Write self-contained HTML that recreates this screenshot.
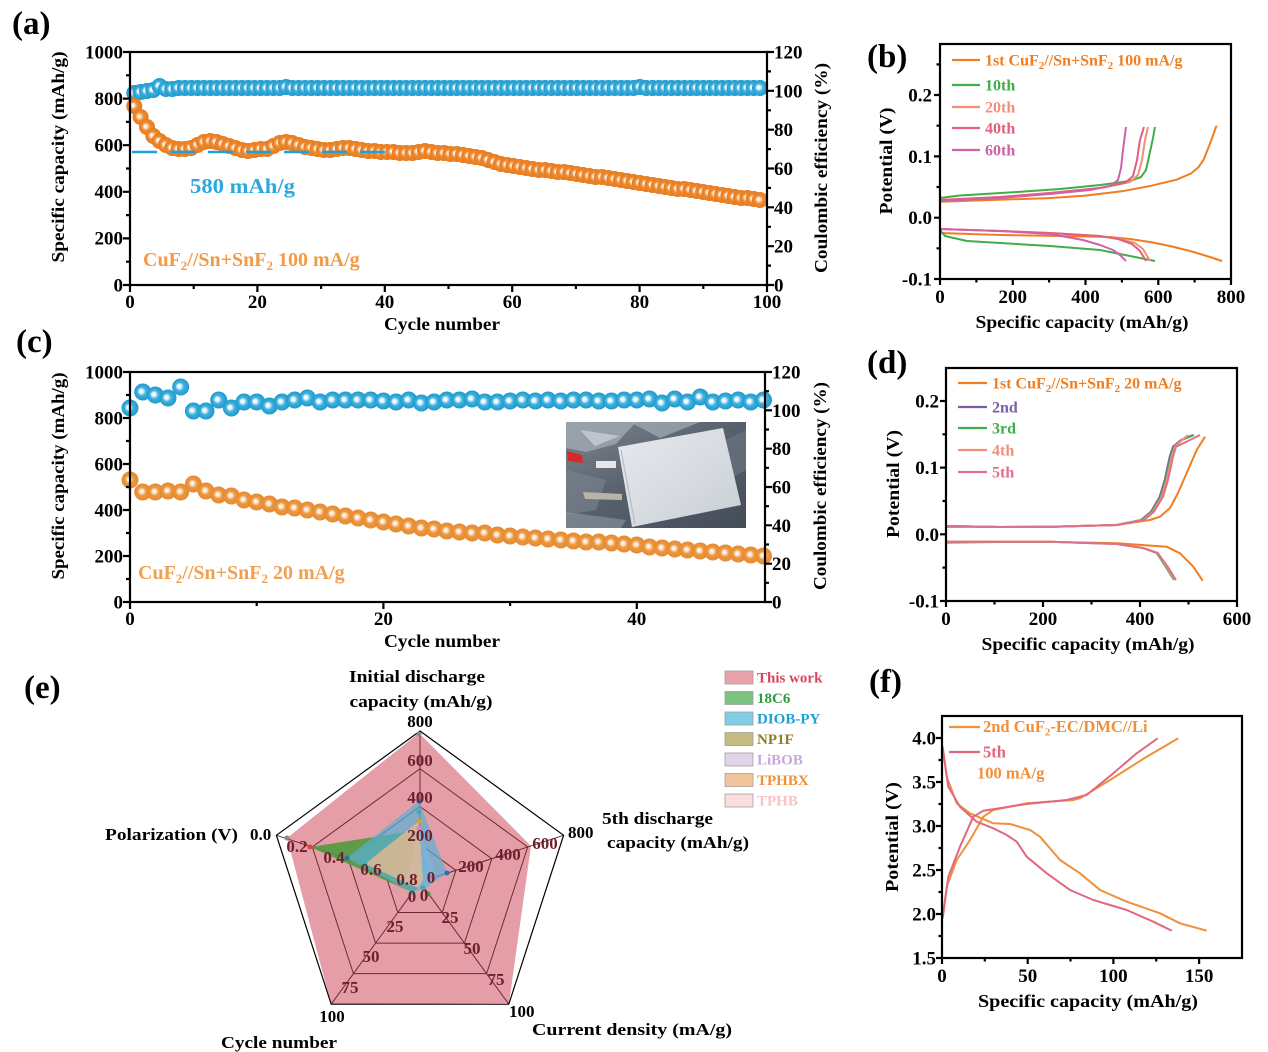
<!DOCTYPE html>
<html><head><meta charset="utf-8"><style>
html,body{margin:0;padding:0;background:#fff;}
svg{display:block;}
text{font-family:"Liberation Serif",serif;font-weight:bold;}
</style></head><body>
<svg width="1268" height="1052" viewBox="0 0 1268 1052" xmlns="http://www.w3.org/2000/svg">
<defs>
<radialGradient id="gb" cx="0.5" cy="0.5" r="0.5" fx="0.38" fy="0.45"><stop offset="0" stop-color="#ffffff"/><stop offset="0.22" stop-color="#e8f6fc"/><stop offset="0.5" stop-color="#3fb1de"/><stop offset="1" stop-color="#1d98cc"/></radialGradient>
<radialGradient id="go" cx="0.5" cy="0.5" r="0.5" fx="0.38" fy="0.45"><stop offset="0" stop-color="#ffffff"/><stop offset="0.22" stop-color="#fbe3cc"/><stop offset="0.5" stop-color="#f08a32"/><stop offset="1" stop-color="#e67a1c"/></radialGradient>
<radialGradient id="go2" cx="0.5" cy="0.5" r="0.5" fx="0.42" fy="0.45"><stop offset="0" stop-color="#ffffff"/><stop offset="0.22" stop-color="#fbe6d2"/><stop offset="0.5" stop-color="#ec973f"/><stop offset="1" stop-color="#e68a30"/></radialGradient>
<marker id="mb" viewBox="-9 -9 18 18" markerWidth="18" markerHeight="18" markerUnits="userSpaceOnUse" refX="0" refY="0" overflow="visible"><circle r="8" fill="url(#gb)"/></marker>
<marker id="mo" viewBox="-9 -9 18 18" markerWidth="18" markerHeight="18" markerUnits="userSpaceOnUse" refX="0" refY="0" overflow="visible"><circle r="8" fill="url(#go)"/></marker>
<marker id="mb2" viewBox="-9 -9 18 18" markerWidth="18" markerHeight="18" markerUnits="userSpaceOnUse" refX="0" refY="0" overflow="visible"><circle r="8.5" fill="url(#gb)"/></marker>
<marker id="mo2" viewBox="-9 -9 18 18" markerWidth="18" markerHeight="18" markerUnits="userSpaceOnUse" refX="0" refY="0" overflow="visible"><circle r="8.5" fill="url(#go2)"/></marker>
<linearGradient id="ph" x1="0" y1="0" x2="1" y2="1"><stop offset="0" stop-color="#7c8590"/><stop offset="0.5" stop-color="#56606c"/><stop offset="1" stop-color="#444c58"/></linearGradient>
<linearGradient id="pouch" x1="0" y1="0" x2="1" y2="1"><stop offset="0" stop-color="#e6e9ed"/><stop offset="0.6" stop-color="#d5dae0"/><stop offset="1" stop-color="#c8ced5"/></linearGradient>
</defs>
<rect width="1268" height="1052" fill="#fff"/>

<!-- ================= (a) ================= -->
<text x="12" y="34" font-size="33">(a)</text>
<polyline fill="none" stroke="none" marker-start="url(#mb)" marker-mid="url(#mb)" marker-end="url(#mb)" points="134.3,93 140.6,92 147,91 153.3,90 159.6,86 165.9,89 172.2,89 178.6,88 184.9,88 191.2,88 197.5,88 203.8,88 210.2,88 216.5,88 222.8,88 229.1,88 235.4,88 241.8,88 248.1,88 254.4,88 260.7,88 267,88 273.4,88 279.7,88 286,87 292.3,88 298.6,88 305,88 311.3,88 317.6,88 323.9,88 330.2,88 336.6,88 342.9,88 349.2,88 355.5,88 361.8,88 368.2,88 374.5,88 380.8,88 387.1,88 393.4,88 399.8,88 406.1,88 412.4,88 418.7,88 425,88 431.4,88 437.7,88 444,88 450.3,88 456.6,88 463,88 469.3,88 475.6,88 481.9,88 488.2,88 494.6,88 500.9,88 507.2,88 513.5,88 519.8,88 526.2,88 532.5,88 538.8,88 545.1,88 551.4,88 557.8,88 564.1,88 570.4,88 576.7,88 583,88 589.4,88 595.7,88 602,88 608.3,88 614.6,88 621,88 627.3,88 633.6,88 639.9,87 646.2,88 652.6,88 658.9,88 665.2,88 671.5,88 677.8,88 684.2,88 690.5,88 696.8,88 703.1,88 709.4,88 715.8,88 722.1,88 728.4,88 734.7,88 741,88 747.4,88 753.7,88 760,88"/>
<polyline fill="none" stroke="none" marker-start="url(#mo)" marker-mid="url(#mo)" marker-end="url(#mo)" points="134.3,106 140.6,117 147,127 153.3,136 159.6,141 165.9,145 172.2,148 178.6,149 184.9,149 191.2,148 197.5,145 203.8,142 210.2,141 216.5,142 222.8,144 229.1,146 235.4,148 241.8,150 248.1,151 254.4,150 260.7,149 267,149 273.4,146 279.7,143 286,142 292.3,143 298.6,145 305,147 311.3,148 317.6,149 323.9,150 330.2,150 336.6,149 342.9,148 349.2,148 355.5,149 361.8,150 368.2,151 374.5,151 380.8,152 387.1,152 393.4,152 399.8,153 406.1,153 412.4,153 418.7,152 425,151 431.4,152 437.7,153 444,153 450.3,154 456.6,154 463,155 469.3,156 475.6,157 481.9,158 488.2,160 494.6,162 500.9,164 507.2,165 513.5,166 519.8,167 526.2,168 532.5,169 538.8,170 545.1,170 551.4,171 557.8,172 564.1,172 570.4,173 576.7,174 583,175 589.4,176 595.7,177 602,177 608.3,178 614.6,179 621,180 627.3,181 633.6,182 639.9,183 646.2,184 652.6,185 658.9,186 665.2,187 671.5,188 677.8,189 684.2,189 690.5,190 696.8,191 703.1,192 709.4,193 715.8,194 722.1,195 728.4,196 734.7,197 741,198 747.4,198 753.7,199 760,200"/>
<line x1="132" y1="152" x2="392" y2="152" stroke="#1ea0d8" stroke-width="2.6" stroke-dasharray="25 13"/>
<g fill="none" stroke="#000" stroke-width="2.2">
<rect x="130" y="52" width="637" height="233"/>
<path d="M130 52h-7M130 98.6h-7M130 145.2h-7M130 191.8h-7M130 238.4h-7M130 285h-7M130 75.3h-4M130 121.9h-4M130 168.5h-4M130 215.1h-4M130 261.7h-4M767 52h7M767 90.8h7M767 129.7h7M767 168.5h7M767 207.3h7M767 246.2h7M767 285h7M767 71.4h4M767 110.3h4M767 149.1h4M767 187.9h4M767 226.8h4M767 265.6h4M130 285v7M257.4 285v7M384.8 285v7M512.2 285v7M639.6 285v7M767 285v7M193.7 285v4M321.1 285v4M448.5 285v4M575.9 285v4M703.3 285v4"/>
</g>
<g font-size="19" text-anchor="end">
<text x="123" y="58.5">1000</text><text x="123" y="105">800</text><text x="123" y="151.5">600</text><text x="123" y="198">400</text><text x="123" y="244.5">200</text><text x="123" y="291.5">0</text>
</g>
<g font-size="19">
<text x="774" y="58.5">120</text><text x="774" y="97.3">100</text><text x="774" y="136">80</text><text x="774" y="175">60</text><text x="774" y="213.8">40</text><text x="774" y="252.5">20</text><text x="774" y="291.5">0</text>
</g>
<g font-size="19" text-anchor="middle">
<text x="130" y="308">0</text><text x="257.4" y="308">20</text><text x="384.8" y="308">40</text><text x="512.2" y="308">60</text><text x="639.6" y="308">80</text><text x="767" y="308">100</text>
</g>
<text x="442" y="330" font-size="18" text-anchor="middle" textLength="116" lengthAdjust="spacingAndGlyphs">Cycle number</text>
<text transform="translate(64,157) rotate(-90)" font-size="18" text-anchor="middle" textLength="211" lengthAdjust="spacingAndGlyphs">Specific capacity (mAh/g)</text>
<text transform="translate(827,168) rotate(-90)" font-size="18" text-anchor="middle" textLength="210" lengthAdjust="spacingAndGlyphs">Coulombic efficiency (%)</text>
<text x="190" y="193" font-size="21" fill="#29a9e0" textLength="105" lengthAdjust="spacingAndGlyphs">580 mAh/g</text>
<text x="143" y="266" font-size="20" fill="#f39a45">CuF<tspan font-size="13" dy="4">2</tspan><tspan dy="-4">//Sn+SnF</tspan><tspan font-size="13" dy="4">2</tspan><tspan dy="-4"> 100 mA/g</tspan></text>

<!-- ================= (b) ================= -->
<text x="867" y="67" font-size="33">(b)</text>
<g fill="none" stroke-width="2" stroke-linejoin="round">
<polyline stroke="#f07e20" points="940,233 940,201.8 976.4,200.5 1012.8,199.3 1049.1,198.1 1085.5,195.6 1121.9,191.3 1151,185.8 1176.5,179.7 1191,173.5 1198.3,167.4 1203.8,159.4 1211,141 1216.5,125.7"/>
<polyline stroke="#f07e20" points="940,233 1000,235 1060,236 1110,237 1130,239 1150,242 1170,246 1190,251 1210,257 1222,261"/>
<polyline stroke="#3fae49" points="940,230 940,198 960,195.5 1017,192 1060,189 1100,185 1130,181 1141,177 1146,170 1150,152 1153,138 1155,127"/>
<polyline stroke="#3fae49" points="940,230 945,236 967,241 1050,246 1100,250 1120,254 1140,258 1155,261"/>
<polyline stroke="#f0907a" points="940,229 940,200 1000,197 1050,193 1100,188 1130,182 1138,175 1142,160 1145,140 1148,127"/>
<polyline stroke="#f0907a" points="940,229 1000,231 1050,233 1100,236 1120,239 1135,243 1143,249 1150,261"/>
<polyline stroke="#e0607e" points="940,229 940,200 1000,197 1050,193 1100,188 1125,183 1133,176 1137,160 1140,140 1144,127"/>
<polyline stroke="#e0607e" points="940,229 1000,231 1050,233 1100,236 1118,239 1132,244 1140,251 1146,261"/>
<polyline stroke="#d060a8" points="940,229 940,201 1000,198 1050,194 1090,190 1110,186 1118,180 1121,168 1123,150 1126,127"/>
<polyline stroke="#d060a8" points="940,229 1000,231 1050,234 1083,240 1100,245 1113,250 1120,255 1126,261"/>
</g>
<g fill="none" stroke="#000" stroke-width="2.2">
<rect x="940" y="44" width="291" height="235"/>
<path d="M940 279h-6M940 217.7h-6M940 156.4h-6M940 95h-6M940 248.3h-3.5M940 187h-3.5M940 125.7h-3.5M940 64.4h-3.5M940 279v6M1012.8 279v6M1085.5 279v6M1158.3 279v6M1231 279v6M976.4 279v3.5M1049.1 279v3.5M1121.9 279v3.5M1194.6 279v3.5"/>
</g>
<g font-size="19" text-anchor="end">
<text x="932" y="101.5">0.2</text><text x="932" y="163">0.1</text><text x="932" y="224">0.0</text><text x="932" y="285.5">-0.1</text>
</g>
<g font-size="19" text-anchor="middle">
<text x="940" y="303">0</text><text x="1012.8" y="303">200</text><text x="1085.5" y="303">400</text><text x="1158.3" y="303">600</text><text x="1231" y="303">800</text>
</g>
<text x="1082" y="328" font-size="18" text-anchor="middle" textLength="213" lengthAdjust="spacingAndGlyphs">Specific capacity (mAh/g)</text>
<text transform="translate(892,161) rotate(-90)" font-size="18" text-anchor="middle" textLength="107" lengthAdjust="spacingAndGlyphs">Potential (V)</text>
<g stroke-width="2.2">
<line x1="952" y1="60" x2="980" y2="60" stroke="#f07e20"/>
<line x1="952" y1="85" x2="980" y2="85" stroke="#3fae49"/>
<line x1="952" y1="107" x2="980" y2="107" stroke="#f0907a"/>
<line x1="952" y1="128" x2="980" y2="128" stroke="#e0607e"/>
<line x1="952" y1="150" x2="980" y2="150" stroke="#d060a8"/>
</g>
<g font-size="16">
<text x="985" y="65.5" fill="#f07e20">1st CuF<tspan font-size="11" dy="3.5">2</tspan><tspan dy="-3.5">//Sn+SnF</tspan><tspan font-size="11" dy="3.5">2</tspan><tspan dy="-3.5"> 100 mA/g</tspan></text>
<text x="985" y="90.5" fill="#3fae49">10th</text>
<text x="985" y="112.5" fill="#f0907a">20th</text>
<text x="985" y="133.5" fill="#e0607e">40th</text>
<text x="985" y="155.5" fill="#d060a8">60th</text>
</g>

<!-- ================= (c) ================= -->
<text x="16" y="352" font-size="33">(c)</text>
<polyline fill="none" stroke="none" marker-start="url(#mb2)" marker-mid="url(#mb2)" marker-end="url(#mb2)" points="130,408 142.7,392 155.3,395 168,398 180.7,387 193.4,411 206,411 218.7,400 231.4,408 244,402 256.7,402 269.4,406 282,402 294.7,400 307.4,398 320.1,402 332.7,400 345.4,400 358.1,400 370.7,400 383.4,401 396.1,402 408.7,400 421.4,403 434.1,402 446.8,400 459.4,400 472.1,399 484.8,402 497.4,402 510.1,401 522.8,400 535.4,401 548.1,400 560.8,401 573.5,400 586.1,400 598.8,401 611.5,401 624.1,400 636.8,400 649.5,399 662.1,403 674.8,399 687.5,402 700.2,397 712.8,402 725.5,401 738.2,400 750.8,402 763.5,400"/>
<polyline fill="none" stroke="none" marker-start="url(#mo2)" marker-mid="url(#mo2)" marker-end="url(#mo2)" points="130,480 142.7,492 155.3,492 168,491 180.7,492 193.4,484 206,491 218.7,495 231.4,496 244,500 256.7,502 269.4,504 282,507 294.7,508 307.4,510 320.1,512 332.7,514 345.4,516 358.1,518 370.7,520 383.4,522 396.1,524 408.7,526 421.4,528 434.1,529 446.8,531 459.4,532 472.1,533 484.8,533 497.4,535 510.1,536 522.8,537 535.4,538 548.1,539 560.8,540 573.5,541 586.1,542 598.8,542 611.5,543 624.1,544 636.8,545 649.5,547 662.1,548 674.8,549 687.5,550 700.2,551 712.8,552 725.5,553 738.2,554 750.8,555 763.5,556"/>
<!-- photo -->
<g>
<rect x="566" y="422" width="180" height="106" fill="url(#ph)"/>
<path d="M566 422h70l-20 22l-30 8l-20-4z" fill="#a4acb6" opacity="0.75"/>
<path d="M630 422h70l-40 16z" fill="#aab2bb" opacity="0.65"/>
<path d="M580 430l40 6l-25 10z" fill="#d8dde2" opacity="0.6"/>
<path d="M566 470l40 10l-10 30l-30 5z" fill="#7a838e" opacity="0.6"/>
<path d="M566 512l60 8l-5 8h-55z" fill="#8e96a0" opacity="0.6"/>
<path d="M725 440l21-10v40l-14 8z" fill="#6e7782" opacity="0.6"/>
<polygon points="618,447 723,428 741,505 632,527" fill="url(#pouch)"/>
<polyline points="621,450 635,524" fill="none" stroke="#b8bdc3" stroke-width="1.2"/>
<polygon points="567,451 582,455 583,463 568,461" fill="#d42a2a"/>
<rect x="596" y="461" width="20" height="7" fill="#e6e6e6"/>
<polygon points="583,492 622,494 622,500 585,499" fill="#b9b4a8"/>
</g>
<g fill="none" stroke="#000" stroke-width="2.2">
<rect x="130" y="372" width="635" height="230"/>
<path d="M130 372h-7M130 418h-7M130 464h-7M130 510h-7M130 556h-7M130 602h-7M130 395h-4M130 441h-4M130 487h-4M130 533h-4M130 579h-4M765 372h7M765 410.3h7M765 448.7h7M765 487h7M765 525.3h7M765 563.7h7M765 602h7M765 391.2h4M765 429.5h4M765 467.8h4M765 506.2h4M765 544.5h4M765 582.8h4M130 602v7M383.4 602v7M636.8 602v7M256.7 602v4M510.1 602v4"/>
</g>
<g font-size="19" text-anchor="end">
<text x="123" y="378.5">1000</text><text x="123" y="424.5">800</text><text x="123" y="470.5">600</text><text x="123" y="516.5">400</text><text x="123" y="562.5">200</text><text x="123" y="608.5">0</text>
</g>
<g font-size="19">
<text x="772" y="378.5">120</text><text x="772" y="416.8">100</text><text x="772" y="455.2">80</text><text x="772" y="493.5">60</text><text x="772" y="531.8">40</text><text x="772" y="570.2">20</text><text x="772" y="608.5">0</text>
</g>
<g font-size="19" text-anchor="middle">
<text x="130" y="625">0</text><text x="383.4" y="625">20</text><text x="636.8" y="625">40</text>
</g>
<text x="442" y="647" font-size="18" text-anchor="middle" textLength="116" lengthAdjust="spacingAndGlyphs">Cycle number</text>
<text transform="translate(64,476) rotate(-90)" font-size="18" text-anchor="middle" textLength="207" lengthAdjust="spacingAndGlyphs">Specific capacity (mAh/g)</text>
<text transform="translate(826,486) rotate(-90)" font-size="18" text-anchor="middle" textLength="208" lengthAdjust="spacingAndGlyphs">Coulombic efficiency (%)</text>
<text x="138" y="579" font-size="20" fill="#f0a050">CuF<tspan font-size="13" dy="4">2</tspan><tspan dy="-4">//Sn+SnF</tspan><tspan font-size="13" dy="4">2</tspan><tspan dy="-4"> 20 mA/g</tspan></text>

<!-- ================= (d) ================= -->
<text x="867" y="373" font-size="33">(d)</text>
<g fill="none" stroke-width="2" stroke-linejoin="round">
<polyline stroke="#f07e20" points="946,542.7 946,526.7 1000,527 1050,527 1116.7,525 1150,520 1160,516.7 1170,508 1178,493 1186.7,473 1196.7,450 1205,436.7"/>
<polyline stroke="#f07e20" points="946,542.7 1000,542 1060,542 1116.7,543.3 1166.7,546.7 1180,553.3 1193.3,566.7 1202.7,580.7"/>
<polyline stroke="#7b5ea7" points="946,541.7 946,526 1000,527 1050,526.7 1116.7,525 1141,520 1151,511.7 1159.7,496.7 1164.7,480 1169.7,456.7 1173,446.7 1181,440 1193,435"/>
<polyline stroke="#3fae49" points="946,541.7 946,526 1000,527 1050,526.7 1116.7,525 1142,520 1152,511.7 1160.7,496.7 1165.7,480 1170.7,456.7 1174,446.7 1182,440 1194,435"/>
<polyline stroke="#f0907a" points="946,541.7 946,526 1000,527 1050,526.7 1116.7,525 1143,520 1153,511.7 1161.7,496.7 1166.7,480 1171.7,456.7 1175,446.7 1182,440 1188,435"/>
<polyline stroke="#e0708a" points="946,541.7 946,526 1000,527 1050,526.7 1116.7,525 1144,520 1154,511.7 1163,496.7 1168,480 1173,456.7 1176,446.7 1188,441 1200,435"/>
<polyline stroke="#3fae49" points="946,541.7 1000,541.7 1050,541.7 1116.7,544 1143,548 1156.7,553 1165.7,566.7 1174,580"/>
<polyline stroke="#f0907a" points="946,541.7 1000,541.7 1050,541.7 1116.7,544 1143,548 1157.7,553 1166.7,566.7 1175,580"/>
<polyline stroke="#e0708a" points="946,541.7 1000,541.7 1050,541.7 1116.7,544 1143,548 1157.7,553 1167.7,566.7 1176,580"/>
</g>
<g fill="none" stroke="#000" stroke-width="2.2">
<rect x="946" y="368" width="291" height="233"/>
<path d="M946 401h-6M946 467.6h-6M946 534.3h-6M946 601h-6M946 434.3h-3.5M946 501h-3.5M946 567.6h-3.5M946 601v6M1043 601v6M1140 601v6M1237 601v6M994.5 601v3.5M1091.5 601v3.5M1188.5 601v3.5"/>
</g>
<g font-size="19" text-anchor="end">
<text x="939" y="407.5">0.2</text><text x="939" y="474">0.1</text><text x="939" y="540.8">0.0</text><text x="939" y="607.5">-0.1</text>
</g>
<g font-size="19" text-anchor="middle">
<text x="946" y="625">0</text><text x="1043" y="625">200</text><text x="1140" y="625">400</text><text x="1237" y="625">600</text>
</g>
<text x="1088" y="650" font-size="18" text-anchor="middle" textLength="213" lengthAdjust="spacingAndGlyphs">Specific capacity (mAh/g)</text>
<text transform="translate(899,484) rotate(-90)" font-size="18" text-anchor="middle" textLength="108" lengthAdjust="spacingAndGlyphs">Potential (V)</text>
<g stroke-width="2.2">
<line x1="958" y1="383" x2="987" y2="383" stroke="#f07e20"/>
<line x1="958" y1="407" x2="987" y2="407" stroke="#7b5ea7"/>
<line x1="958" y1="428" x2="987" y2="428" stroke="#3fae49"/>
<line x1="958" y1="450" x2="987" y2="450" stroke="#f0907a"/>
<line x1="958" y1="472" x2="987" y2="472" stroke="#e0708a"/>
</g>
<g font-size="16">
<text x="992" y="388.5" fill="#f07e20">1st CuF<tspan font-size="11" dy="3.5">2</tspan><tspan dy="-3.5">//Sn+SnF</tspan><tspan font-size="11" dy="3.5">2</tspan><tspan dy="-3.5"> 20 mA/g</tspan></text>
<text x="992" y="412.5" fill="#7b5ea7">2nd</text>
<text x="992" y="433.5" fill="#3fae49">3rd</text>
<text x="992" y="455.5" fill="#f0907a">4th</text>
<text x="992" y="477.5" fill="#e0708a">5th</text>
</g>

<!-- ================= (e) ================= -->
<text x="24" y="698" font-size="33">(e)</text>
<polygon points="419,733 531,846 509,1003 331,1004 287,838" fill="#e59ea7"/>
<g fill="none" stroke="#6d2a33" stroke-width="1">
<polygon points="420,768.75 527.7,847 486.6,973.6 353.4,973.6 312.3,847"/>
<polygon points="420,806.5 491.8,858.7 464.4,943.1 375.6,943.1 348.2,858.7"/>
<polygon points="420,844.25 455.9,870.3 442.2,912.5 397.8,912.5 384.1,870.3"/>
<path d="M420 882L420 731M420 882L563.6 835.3M420 882L508.8 1004.2M420 882L331.2 1004.2M420 882L276.4 835.3"/>
</g>
<polygon points="420,731 563.6,835.3 508.8,1004.2 331.2,1004.2 276.4,835.3" fill="none" stroke="#000" stroke-width="1.2"/>
<polygon points="310,847 419,830 430,880 412,892" fill="#4f9a3e" opacity="0.9"/>
<polygon points="419,828 436,877 423,888 405,884" fill="#cbbbe2" opacity="0.85"/>
<polygon points="419,801 447,873 424,889 412,892 347,858" fill="#5ab0d6" opacity="0.7"/>
<polygon points="419,821 423,880 418,888 365,864" fill="#e6b890" opacity="0.8"/>
<g>
<circle cx="419" cy="801" r="2.5" fill="#2a6fc0"/><circle cx="419" cy="812" r="2.5" fill="#36b0b0"/><circle cx="419" cy="821" r="2.5" fill="#e0a020"/><circle cx="419" cy="828" r="2.5" fill="#e080c0"/>
<circle cx="310" cy="847" r="2.5" fill="#e04040"/><circle cx="347" cy="858" r="2.5" fill="#2a6fc0"/><circle cx="365" cy="864" r="2.5" fill="#36b0b0"/>
<circle cx="447" cy="873" r="2.5" fill="#2a6fc0"/><circle cx="432" cy="877" r="2.5" fill="#b080d0"/><circle cx="412" cy="892" r="2.5" fill="#36b0b0"/><circle cx="423" cy="888" r="2.5" fill="#36b0b0"/><circle cx="428" cy="894" r="2.5" fill="#30a050"/>
<circle cx="419" cy="734" r="2.5" fill="#8a8a8a"/><circle cx="287" cy="838" r="2.5" fill="#8a8a8a"/>
</g>
<g font-size="17" fill="#6d1f2c" text-anchor="middle">
<text x="420" y="766">600</text><text x="420" y="803">400</text><text x="420" y="841">200</text><text x="431" y="883">0</text>
<text x="471" y="872">200</text><text x="508" y="860">400</text><text x="545" y="849">600</text>
<text x="297" y="852">0.2</text><text x="334" y="863">0.4</text><text x="371" y="875">0.6</text><text x="407" y="885">0.8</text>
<text x="412" y="902">0</text><text x="395" y="932">25</text><text x="371" y="962">50</text><text x="350" y="993">75</text>
<text x="424" y="901">0</text><text x="450" y="923">25</text><text x="472" y="954">50</text><text x="496" y="985">75</text>
</g>
<g font-size="17" text-anchor="middle">
<text x="417" y="682" textLength="136" lengthAdjust="spacingAndGlyphs">Initial discharge</text>
<text x="421" y="707" textLength="143" lengthAdjust="spacingAndGlyphs">capacity (mAh/g)</text>
<text x="420" y="727">800</text>
<text x="332" y="1022">100</text>
<text x="279" y="1048" textLength="116" lengthAdjust="spacingAndGlyphs">Cycle number</text>
</g>
<g font-size="17">
<text x="602" y="824" textLength="111" lengthAdjust="spacingAndGlyphs">5th discharge</text>
<text x="607" y="848" textLength="142" lengthAdjust="spacingAndGlyphs">capacity (mAh/g)</text>
<text x="568" y="838">800</text>
<text x="105" y="840" textLength="133" lengthAdjust="spacingAndGlyphs">Polarization (V)</text>
<text x="250" y="840">0.0</text>
<text x="509" y="1017">100</text>
<text x="532" y="1035" textLength="200" lengthAdjust="spacingAndGlyphs">Current  density (mA/g)</text>
</g>
<g stroke="#a0a0a0" stroke-width="0.8">
<rect x="725" y="671" width="28" height="13" fill="#e8a2ab"/>
<rect x="725" y="691.5" width="28" height="13" fill="#7cc283"/>
<rect x="725" y="712" width="28" height="13" fill="#80cde6"/>
<rect x="725" y="732.5" width="28" height="13" fill="#c4bd82"/>
<rect x="725" y="753" width="28" height="13" fill="#e0d4ea"/>
<rect x="725" y="773.5" width="28" height="13" fill="#f2c49c"/>
<rect x="725" y="794" width="28" height="13" fill="#fbdde0"/>
</g>
<g font-size="15">
<text x="757" y="682.5" fill="#d4475e">This work</text>
<text x="757" y="703" fill="#2e9a40">18C6</text>
<text x="757" y="723.5" fill="#1e9fd6">DIOB-PY</text>
<text x="757" y="744" fill="#8c7f23">NP1F</text>
<text x="757" y="764.5" fill="#c6a9dc">LiBOB</text>
<text x="757" y="785" fill="#ef913a">TPHBX</text>
<text x="757" y="805.5" fill="#f8c2c8">TPHB</text>
</g>

<!-- ================= (f) ================= -->
<text x="869" y="692" font-size="33">(f)</text>
<g fill="none" stroke-width="2" stroke-linejoin="round">
<polyline stroke="#f0903a" points="942.7,918.3 946.7,886.7 956.7,860 970,840 983.3,816.7 993.3,810 1026.7,803.3 1073.3,800 1080,798.3 1110,780 1146.7,756.7 1178.3,738.3"/>
<polyline stroke="#f0903a" points="942.7,746.7 946.7,776.7 956.7,803.3 970,813.3 993.3,823.3 1010,824 1030,830 1040,836.7 1060,860 1080,873.3 1100,890 1126.7,901.7 1160,913.3 1180,923.3 1206.7,930.7"/>
<polyline stroke="#e0687f" points="942.7,918 948.3,876.7 960,846.7 973.3,816.7 983.3,810.7 1026.7,804 1066.7,800 1086.7,795 1113.3,773.3 1136.7,753.3 1157.7,738.3"/>
<polyline stroke="#e0687f" points="942.7,748.3 948.3,786.7 960,806.7 976.7,821.7 993.3,828.3 1006.7,835 1016.7,841.7 1026.7,856.7 1046.7,873.3 1070,890 1093.3,900 1126.7,910 1153.3,921.7 1171.7,930.7"/>
</g>
<g fill="none" stroke="#000" stroke-width="2.2">
<rect x="942" y="716" width="300" height="242"/>
<path d="M942 738h-6M942 782h-6M942 826h-6M942 870h-6M942 914h-6M942 958h-6M942 760h-3.5M942 804h-3.5M942 848h-3.5M942 892h-3.5M942 936h-3.5M942 958v6M1027.7 958v6M1113.4 958v6M1199.1 958v6M984.8 958v3.5M1070.5 958v3.5M1156.2 958v3.5"/>
</g>
<g font-size="19" text-anchor="end">
<text x="936" y="744.5">4.0</text><text x="936" y="788.5">3.5</text><text x="936" y="832.5">3.0</text><text x="936" y="876.5">2.5</text><text x="936" y="920.5">2.0</text><text x="936" y="964.5">1.5</text>
</g>
<g font-size="19" text-anchor="middle">
<text x="942" y="982">0</text><text x="1027.7" y="982">50</text><text x="1113.4" y="982">100</text><text x="1199.1" y="982">150</text>
</g>
<text x="1088" y="1007" font-size="18" text-anchor="middle" textLength="220" lengthAdjust="spacingAndGlyphs">Specific capacity (mAh/g)</text>
<text transform="translate(898,837) rotate(-90)" font-size="18" text-anchor="middle" textLength="110" lengthAdjust="spacingAndGlyphs">Potential (V)</text>
<line x1="949" y1="727" x2="980" y2="727" stroke="#f0903a" stroke-width="2.2"/>
<line x1="949" y1="752" x2="980" y2="752" stroke="#e0687f" stroke-width="2.2"/>
<g font-size="16.5">
<text x="983" y="732" fill="#f0903a">2nd  CuF<tspan font-size="11" dy="3.5">2</tspan><tspan dy="-3.5">-EC/DMC//Li</tspan></text>
<text x="983" y="757.5" fill="#e0687f">5th</text>
<text x="977" y="778.5" fill="#f0903a">100 mA/g</text>
</g>
</svg>
</body></html>
